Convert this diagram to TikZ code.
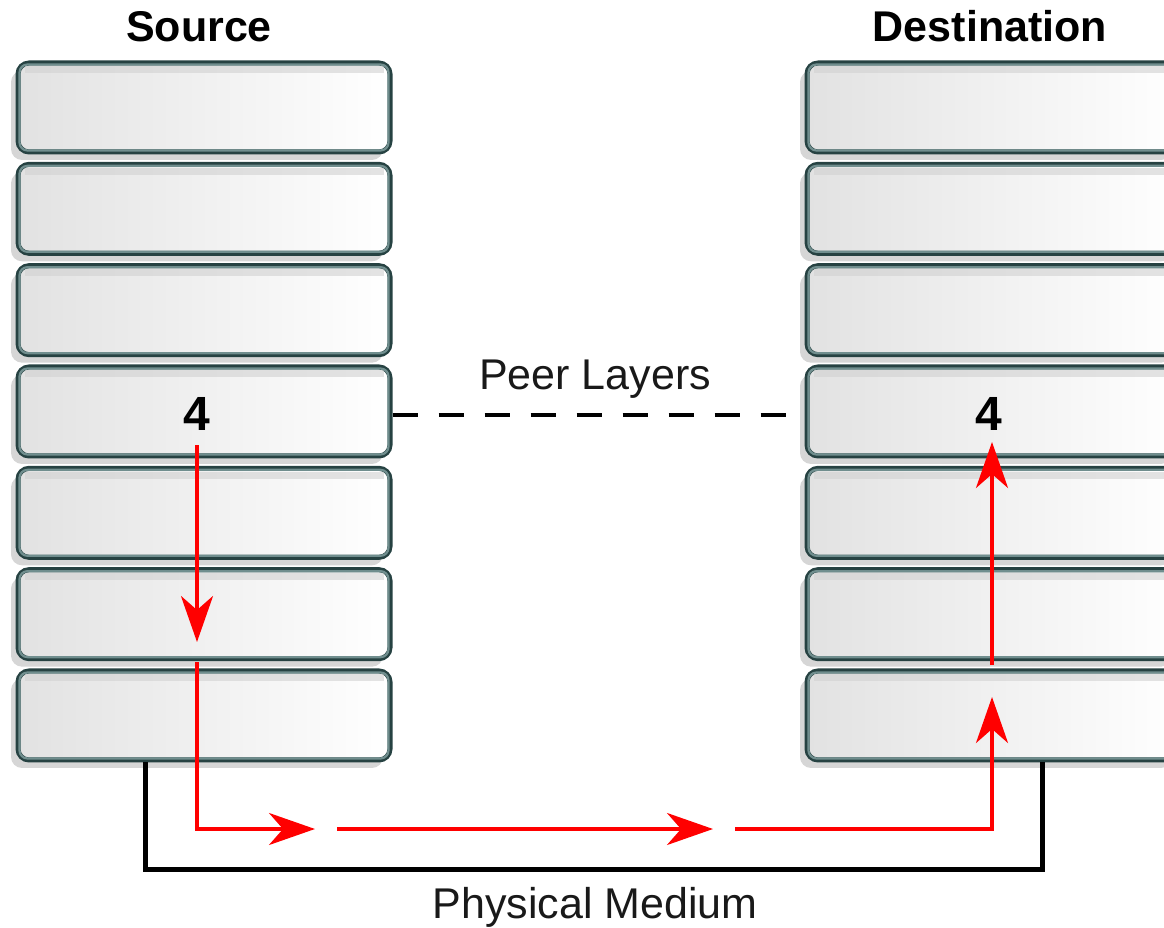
\documentclass[tikz,border=0pt]{standalone}
\usepackage{fontspec}
\setmainfont{Liberation Sans}
\usetikzlibrary{arrows.meta,shadows}

\definecolor{layerdark}{RGB}{38,66,66}
\definecolor{layerlight}{RGB}{112,142,142}
\definecolor{layershadow}{RGB}{214,214,214}
\definecolor{layerleft}{RGB}{226,226,226}
\definecolor{flowred}{RGB}{255,0,0}

\tikzset{
  layer/.style={rectangle, rounded corners=11pt, minimum width=372pt,
    minimum height=89pt, inner sep=0pt, draw=layerdark, line width=5pt,
    left color=layerleft, right color=white,
    drop shadow={shadow xshift=-7pt, shadow yshift=-8pt, fill=layershadow, opacity=1}},
  layerinner/.style={draw=layerlight, line width=2.2pt, rounded corners=8pt},
  layerband/.style={fill=black!18, opacity=0.6},
  title/.style={font=\fontsize{43}{50}\selectfont\bfseries, anchor=base, inner sep=0pt},
  caption/.style={font=\fontsize{43}{50}\selectfont, text=black!90, anchor=base, inner sep=0pt},
  num/.style={font=\fontsize{48}{54}\selectfont\bfseries, inner sep=0pt},
  flow/.style={draw=flowred, line width=3.5pt,
    -{Stealth[length=46pt, width=32pt, inset=14pt]}},
  medium/.style={draw=black, line width=5pt},
  peer/.style={draw=black, line width=4pt, dash pattern=on 25pt off 21pt},
}

\begin{document}
\begin{tikzpicture}[x=1pt, y=-1pt]
  \useasboundingbox (0,0) rectangle (1164,928);
  \clip (0,0) rectangle (1164,928);

  % the two seven-layer stacks
  \foreach \i in {1,...,7} {
    \pgfmathsetmacro{\cy}{63 + 101.33*(\i-1) + 44.5}
    \node[layer] (s\i) at (204,\cy) {};
    \node[layer] (d\i) at (993,\cy) {};
    \foreach \side in {s,d} {
      \fill[layerband] ([shift={(9,6)}]\side\i.north west) rectangle ([shift={(-9,13)}]\side\i.north east);
      \draw[layerinner] ([shift={(4,4)}]\side\i.north west) rectangle ([shift={(-4,-4)}]\side\i.south east);
    }
  }

  % headings
  \node[title] (src) at (199,42) {Source};
  \node[title] (dst) at (990,42) {Destination};

  % transport layer labels
  \node[num] (n4s) at ([xshift=-7,yshift=-2]s4.center) {4};
  \node[num] (n4d) at ([xshift=-4,yshift=-2]d4.center) {4};

  % peer-to-peer relation
  \draw[peer] ([yshift=-4]s4.east) -- ([yshift=-4]d4.west);
  \node[caption] (peer) at (595,389) {Peer Layers};

  % physical medium
  \coordinate (m1) at ([xshift=130]s7.south west);
  \coordinate (m2) at ([xshift=238]d7.south west);
  \draw[medium] (m1) -- (m1 |- 0,869) -- (m2 |- 0,869) -- (m2);
  \node[caption] (phys) at (595,918) {Physical Medium};

  % data flow down the source stack, across, and up the destination stack
  \coordinate (a0) at (197,445);
  \coordinate (a1) at (197,642);
  \coordinate (a2) at (197,662);
  \coordinate (a3) at (315,829);
  \coordinate (a4) at (337,829);
  \coordinate (a5) at (713,829);
  \coordinate (a6) at (735,829);
  \coordinate (a7) at (992,697);
  \coordinate (a8) at (992,665);
  \coordinate (a9) at (992,442);
  \draw[flow] (a0) -- (a1);
  \draw[flow] (a2) -- (a2 |- a3) -- (a3);
  \draw[flow] (a4) -- (a5);
  \draw[flow] (a6) -- (a6 -| a7) -- (a7);
  \draw[flow] (a8) -- (a9);
\end{tikzpicture}
\end{document}
